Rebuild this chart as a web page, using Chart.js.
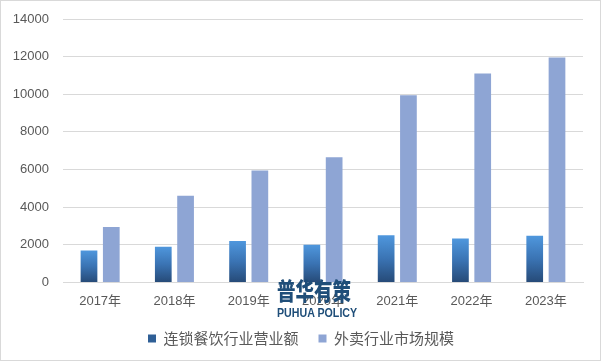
<!DOCTYPE html>
<html><head><meta charset="utf-8">
<script src="https://cdn.jsdelivr.net/npm/chart.js@4.4.0/dist/chart.umd.min.js"></script>
<style>
html,body{margin:0;padding:0;background:#fff;}
#wrap{position:relative;width:599px;height:359px;border:1px solid #d9d9d9;}
canvas{position:absolute;left:0;top:0;}
#wm{position:absolute;left:276px;top:276px;width:74px;color:#1f4e79;pointer-events:none;}
#wm .cn{font-family:"Noto Sans CJK SC";font-size:24px;font-weight:900;line-height:26px;white-space:nowrap;transform:scaleX(0.77);transform-origin:0 0;}
#wm .en{font-family:"Liberation Sans";font-size:13px;font-weight:700;line-height:14px;margin-top:3px;white-space:nowrap;transform:scaleX(0.82);transform-origin:0 0;}
</style></head>
<body>
<div id="wrap"><canvas id="c" width="599" height="359"></canvas>
<div id="wm"><div class="cn">普华有策</div><div class="en">PUHUA POLICY</div></div></div>
<script>
const categories = ["2017年","2018年","2019年","2020年","2021年","2022年","2023年"];
const chainRevenue = [1700, 1900, 2200, 2000, 2500, 2330, 2480];
const deliveryMarket = [2950, 4600, 5950, 6650, 9950, 11100, 11950];
const seriesNames = ["连锁餐饮行业营业额","外卖行业市场规模"];
const yTicks = [0,2000,4000,6000,8000,10000,12000,14000];

function gradFill(ctx){
  const chart = ctx.chart;
  if (ctx.type !== 'data' || !chart.chartArea || !ctx.parsed) return '#2f5f96';
  const y = chart.scales.y;
  const top = y.getPixelForValue(ctx.parsed.y);
  const base = y.getPixelForValue(0);
  if (!isFinite(top) || !isFinite(base) || top === base) return '#2f5f96';
  const g = chart.ctx.createLinearGradient(0, top, 0, base);
  g.addColorStop(0, '#4f97dd');
  g.addColorStop(0.5, '#3a73b3');
  g.addColorStop(1, '#264a77');
  return g;
}

const legendShift = {
  id:'legendShift',
  afterLayout(chart){ const l = chart.legend; if (l){ l.left += 9; l.right += 9; } }
};

const fam = '"Liberation Sans","Noto Sans CJK SC"';
new Chart(document.getElementById('c'), {
  type:'bar',
  data:{
    labels: categories,
    datasets:[
      {label:seriesNames[0], data:chainRevenue, backgroundColor:gradFill, barPercentage:0.75, categoryPercentage:0.6},
      {label:seriesNames[1], data:deliveryMarket, backgroundColor:'#8ea5d4', barPercentage:0.75, categoryPercentage:0.6}
    ]
  },
  plugins:[legendShift],
  options:{
    responsive:false, animation:false,
    layout:{padding:{left:0,right:17,top:18,bottom:4}},
    plugins:{
      tooltip:{enabled:false},
      legend:{position:'bottom', labels:{boxWidth:8, boxHeight:8, color:'#595959', font:{family:'"Noto Sans CJK SC"',size:15}, padding:20,
        generateLabels(chart){
          return seriesNames.map((n,i)=>({text:n, fillStyle: i===0?'#2f5f96':'#8ea5d4', strokeStyle:'rgba(0,0,0,0)', lineWidth:0, datasetIndex:i, fontColor:'#595959'}));
        }}}
    },
    scales:{
      x:{grid:{display:false}, border:{display:true,color:'#d9d9d9'}, ticks:{color:'#595959', font:{family:fam,size:13}, padding:3},
         afterFit(ax){ax.height -= 1;}},
      y:{min:0,max:14000, afterBuildTicks(ax){ax.ticks = yTicks.map(v=>({value:v}));},
         afterFit(ax){ax.width = 62; ax.paddingTop = 0; ax.paddingBottom = 0;},
         grid:{color:'#d9d9d9', drawTicks:false}, border:{display:false},
         ticks:{color:'#595959', font:{family:fam,size:13}, padding:14, callback:(v)=>String(v)}}
    }
  }
});
</script>
</body></html>
